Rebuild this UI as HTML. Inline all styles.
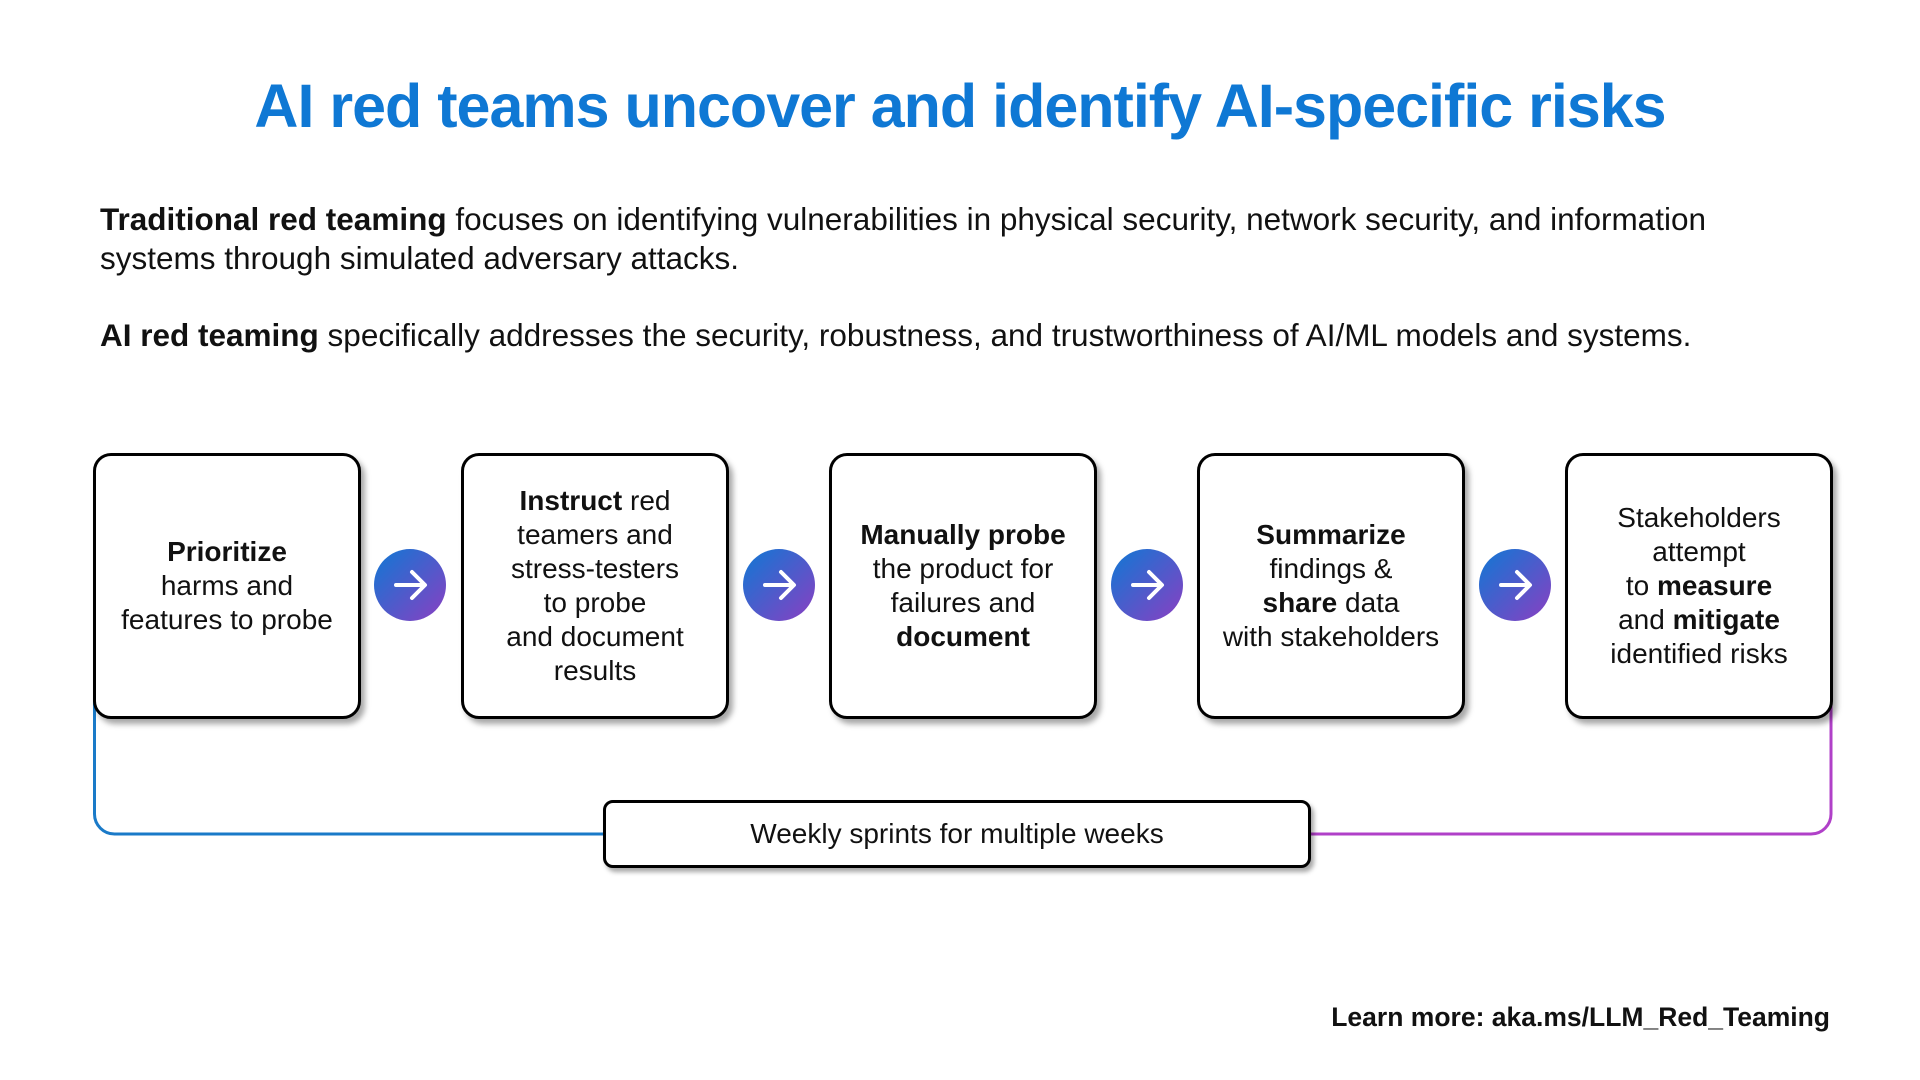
<!DOCTYPE html>
<html><head><meta charset="utf-8"><style>
body{margin:0;width:1920px;height:1080px;background:#fff;position:relative;overflow:hidden;font-family:"Liberation Sans",sans-serif;color:#111}
.title{position:absolute;top:71px;left:0;width:1920px;text-align:center;font-size:61px;font-weight:bold;color:#0f78d4;letter-spacing:-1px}
.p{position:absolute;left:100px;font-size:31.5px;line-height:39px;width:1780px;white-space:nowrap}
.box{position:absolute;top:453px;width:268px;height:266px;border:3px solid #000;border-radius:18px;box-sizing:border-box;display:flex;align-items:center;justify-content:center;text-align:center;font-size:28px;line-height:34px;box-shadow:4px 5px 6px rgba(0,0,0,.35);background:#fff}
.c{position:absolute;top:549px;width:72px;height:72px;border-radius:50%;background:linear-gradient(135deg,#0f78d4,#8a3fc2);}
.c svg{position:absolute;left:0;top:0}
.sprint{position:absolute;left:603px;top:800px;width:708px;height:68px;border:3px solid #000;border-radius:10px;box-sizing:border-box;background:#fff;display:flex;align-items:center;justify-content:center;font-size:28px;box-shadow:3px 4px 5px rgba(0,0,0,.35)}
.learn{position:absolute;right:90px;top:1002px;font-size:26.5px;font-weight:bold}
</style></head><body>
<div class="title">AI red teams uncover and identify AI-specific risks</div>
<div class="p" style="top:200px"><b>Traditional red teaming</b> focuses on identifying vulnerabilities in physical security, network security, and information<br>systems through simulated adversary attacks.</div>
<div class="p" style="top:316px"><b>AI red teaming</b> specifically addresses the security, robustness, and trustworthiness of AI/ML models and systems.</div>
<svg width="1920" height="1080" style="position:absolute;left:0;top:0">
<path d="M94.5 700 V814 a20 20 0 0 0 20 20 H610" fill="none" stroke="#1a7ac8" stroke-width="3"/>
<path d="M1300 834 H1811 a20 20 0 0 0 20 -20 V700" fill="none" stroke="#b040c8" stroke-width="3"/>
</svg>
<div class="box" style="left:93px"><div><b>Prioritize</b><br>harms and<br>features to probe</div></div>
<div class="box" style="left:461px"><div><b>Instruct</b> red<br>teamers and<br>stress-testers<br>to probe<br>and document<br>results</div></div>
<div class="box" style="left:829px"><div><b>Manually probe</b><br>the product for<br>failures and<br><b>document</b></div></div>
<div class="box" style="left:1197px"><div><b>Summarize</b><br>findings &amp;<br><b>share</b> data<br>with stakeholders</div></div>
<div class="box" style="left:1565px"><div>Stakeholders<br>attempt<br>to <b>measure</b><br>and <b>mitigate</b><br>identified risks</div></div>
<div class="c" style="left:374px"><svg width="72" height="72"><path d="M22 36 H50 M38 23 L51 36 L38 49" fill="none" stroke="#fff" stroke-width="4" stroke-linecap="round" stroke-linejoin="round"/></svg></div>
<div class="c" style="left:743px"><svg width="72" height="72"><path d="M22 36 H50 M38 23 L51 36 L38 49" fill="none" stroke="#fff" stroke-width="4" stroke-linecap="round" stroke-linejoin="round"/></svg></div>
<div class="c" style="left:1111px"><svg width="72" height="72"><path d="M22 36 H50 M38 23 L51 36 L38 49" fill="none" stroke="#fff" stroke-width="4" stroke-linecap="round" stroke-linejoin="round"/></svg></div>
<div class="c" style="left:1479px"><svg width="72" height="72"><path d="M22 36 H50 M38 23 L51 36 L38 49" fill="none" stroke="#fff" stroke-width="4" stroke-linecap="round" stroke-linejoin="round"/></svg></div>
<div class="sprint">Weekly sprints for multiple weeks</div>
<div class="learn">Learn more: aka.ms/LLM_Red_Teaming</div>
</body></html>
